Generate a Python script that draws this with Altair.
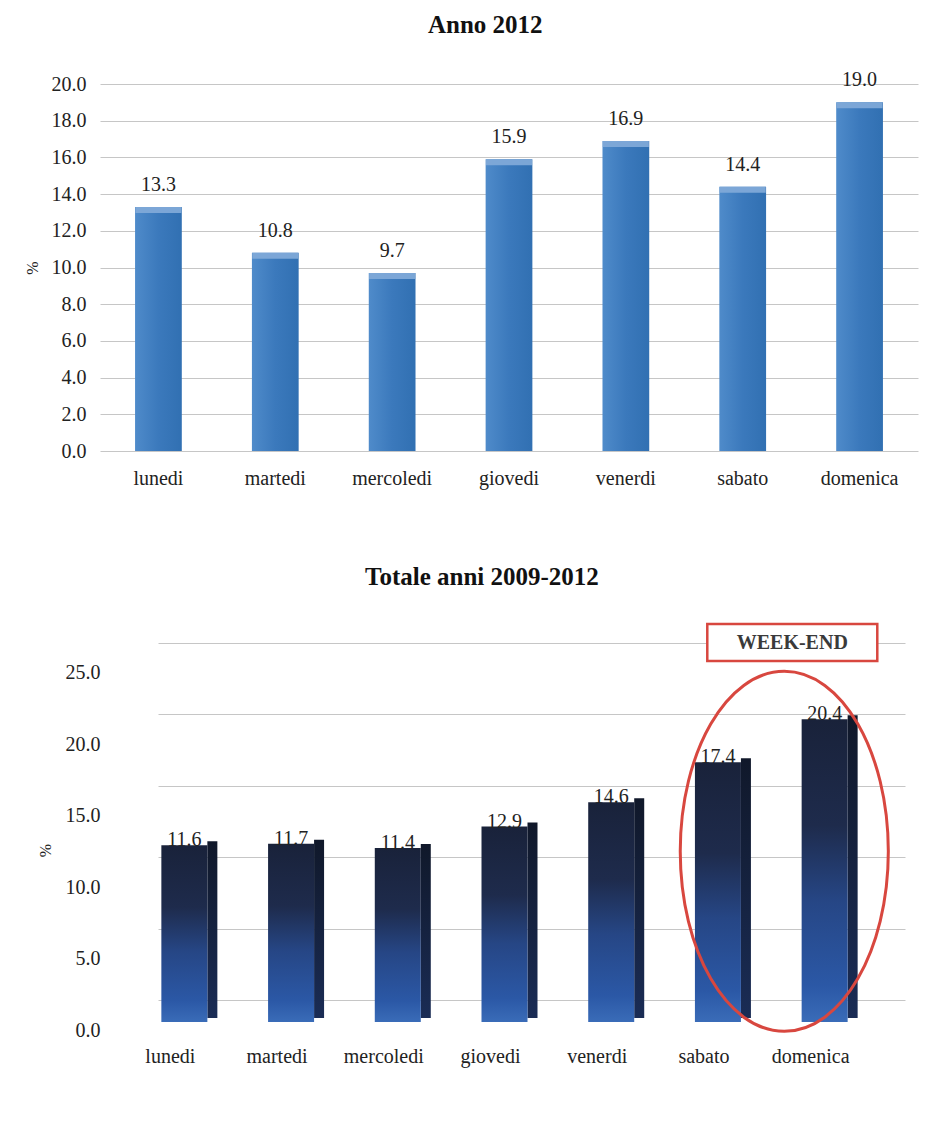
import altair as alt
import pandas as pd

# ---------------- data ----------------
days = ["lunedi", "martedi", "mercoledi", "giovedi", "venerdi", "sabato", "domenica"]
pct_2012 = [13.3, 10.8, 9.7, 15.9, 16.9, 14.4, 19.0]
pct_2009_2012 = [11.6, 11.7, 11.4, 12.9, 14.6, 17.4, 20.4]
ticks_top = [0, 2, 4, 6, 8, 10, 12, 14, 16, 18, 20]
ticks_bottom = [0, 5, 10, 15, 20, 25]
title_top = "Anno 2012"
title_bottom = "Totale anni 2009-2012"
y_title = "%"
weekend_label = "WEEK-END"
weekend_anchor_day = ["domenica"]

df1 = pd.DataFrame({"giorno": days, "v": pct_2012})
df2 = pd.DataFrame({"giorno": days, "v": pct_2009_2012})
df_ann = pd.DataFrame({"giorno": weekend_anchor_day, "label": [weekend_label]})

SERIF = "Liberation Serif"
RED = "#d8473f"
FS = 20

# ---------------- top chart: Anno 2012 ----------------
xs1 = alt.Scale(domain=days, paddingInner=0, paddingOuter=0)
x1 = alt.X("giorno:N", scale=xs1, sort=days,
           axis=alt.Axis(title=None, labelAngle=0, labelPadding=17, ticks=False, tickSize=0,
                         domain=False, labelFontSize=FS, labelOverlap=False))
y1 = alt.Y("v:Q", scale=alt.Scale(domain=[0, 20], nice=False),
           axis=alt.Axis(values=ticks_top, format=".1f", title=y_title, labelPadding=14,
                         ticks=False, tickSize=0, domain=False, labelFontSize=FS,
                         labelOverlap=False, minExtent=87, titleX=-68, titleFontSize=16,
                         titleFontWeight="normal", titleBaseline="middle"))

grad_top = alt.LinearGradient(
    gradient="linear",
    stops=[alt.GradientStop(color="#4f8bca", offset=0),
           alt.GradientStop(color="#3b79bc", offset=0.5),
           alt.GradientStop(color="#3170b2", offset=1)],
    x1=0, x2=1, y1=0, y2=0)

base1 = alt.Chart(df1)
bars1 = base1.mark_bar(width=alt.RelativeBandSize(0.4), color=grad_top).encode(x=x1, y=y1)
caps1 = base1.mark_tick(orient="horizontal", thickness=6, size=46, color="#7fa9d8",
                        yOffset=3, opacity=0.95).encode(x=x1, y=y1)
labels1 = base1.mark_text(font=SERIF, fontSize=FS, color="#222", baseline="middle", dy=-22).encode(
    x=x1, y=y1, text=alt.Text("v:Q", format=".1f"))

top = alt.layer(bars1, caps1, labels1).properties(
    width=818, height=367,
    title=alt.Title(title_top, offset=32, anchor="start", frame="group", dx=328))

# ---------------- bottom chart: Totale anni 2009-2012 ----------------
xs2 = alt.Scale(domain=days, range=[58, 805], paddingInner=0, paddingOuter=0)
axis_x2 = alt.Axis(title=None, labelAngle=0, offset=30, labelOffset=-41, labelPadding=16,
                   ticks=False, tickSize=0, domain=False, labelFontSize=FS,
                   labelOverlap=False)
x2 = alt.X("giorno:N", scale=xs2, sort=days, axis=axis_x2)
y2 = alt.Y("v:Q", scale=alt.Scale(domain=[0, 27], nice=False),
           axis=alt.Axis(values=ticks_bottom, format=".1f", title=y_title, offset=-17,
                         labelOffset=30, labelPadding=17, ticks=False, tickSize=0,
                         domain=False, labelFontSize=FS, labelOverlap=False,
                         titleX=-72, titleY=236, titleFontSize=16,
                         titleFontWeight="normal", titleBaseline="middle"))

grad_front = alt.LinearGradient(
    gradient="linear",
    stops=[alt.GradientStop(color="#19223a", offset=0),
           alt.GradientStop(color="#1e2b4c", offset=0.35),
           alt.GradientStop(color="#264685", offset=0.6),
           alt.GradientStop(color="#2b58a6", offset=0.88),
           alt.GradientStop(color="#3a6cb8", offset=1)],
    x1=0, x2=0, y1=0, y2=1)
grad_side = alt.LinearGradient(
    gradient="linear",
    stops=[alt.GradientStop(color="#10182a", offset=0),
           alt.GradientStop(color="#1a2c55", offset=1)],
    x1=0, x2=0, y1=0, y2=1)

base2 = alt.Chart(df2)
side2 = base2.mark_bar(width=10, xOffset=1, yOffset=7, y2Offset=18, color=grad_side).encode(
    x=x2, y=y2, y2=alt.datum(0))
front2 = base2.mark_bar(width=46, xOffset=-27, yOffset=11, y2Offset=22, color=grad_front).encode(
    x=x2, y=y2, y2=alt.datum(0))
labels2 = base2.mark_text(font=SERIF, fontSize=FS, color="#222", baseline="middle",
                          dy=6, xOffset=-27).encode(
    x=x2, y=y2, text=alt.Text("v:Q", format=".1f"))

ellipse_path = ("M 0.578 0 C 0.578 0.5523 0.3192 1 0 1 C -0.3192 1 -0.578 0.5523 -0.578 0 "
                "C -0.578 -0.5523 -0.3192 -1 0 -1 C 0.3192 -1 0.578 -0.5523 0.578 0 Z")
box_path = "M -1 -0.2176 L 1 -0.2176 L 1 0.2176 L -1 0.2176 Z"

x_ann = alt.X("giorno:N", scale=xs2, sort=days, bandPosition=0, axis=axis_x2)
ellipse = alt.Chart(df_ann).mark_point(shape=ellipse_path, size=129600, filled=False,
                                       stroke=RED, strokeWidth=3, opacity=1,
                                       xOffset=-14).encode(x=x_ann, y=alt.datum(10.4))
box = alt.Chart(df_ann).mark_point(shape=box_path, size=28900, filled=True, fill="white",
                                   stroke=RED, strokeWidth=2.5, opacity=1,
                                   xOffset=-6).encode(x=x_ann, y=alt.datum(25))
box_text = alt.Chart(df_ann).mark_text(font=SERIF, fontSize=FS, fontWeight="bold",
                                       color="#3a3a3a", baseline="middle",
                                       xOffset=-6).encode(x=x_ann, y=alt.datum(25), text="label:N")

bottom = alt.layer(side2, front2, labels2, ellipse, box, box_text).properties(
    width=805, height=386,
    title=alt.Title(title_bottom, offset=24, anchor="start", frame="group", dx=265))

chart = alt.vconcat(top, bottom, spacing=77).configure_view(
    stroke=None
).configure_axis(
    labelFont=SERIF, titleFont=SERIF, labelColor="#222", titleColor="#222",
    gridColor="#c6c6c6", gridWidth=1
).configure_title(font=SERIF, fontSize=25, fontWeight="bold", color="#111")

chart.save("out.html", embed_options={"renderer": "svg", "actions": False})
